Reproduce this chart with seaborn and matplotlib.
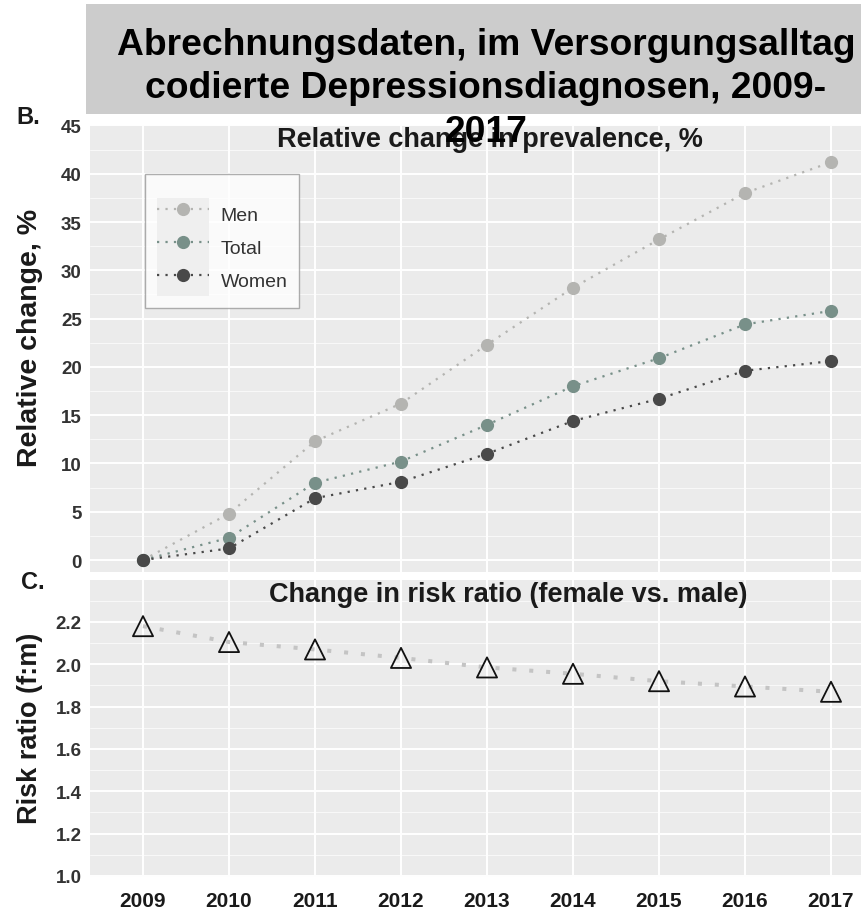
import matplotlib
matplotlib.use("Agg")
import matplotlib.pyplot as plt
import matplotlib.patches as mpatches
from matplotlib.legend_handler import HandlerTuple
from matplotlib.ticker import MultipleLocator
import numpy as np
import pandas as pd
import seaborn as sns

# ---------------- data ----------------
years = [2009, 2010, 2011, 2012, 2013, 2014, 2015, 2016, 2017]
men = [0.0, 4.8, 12.3, 16.2, 22.3, 28.2, 33.2, 38.0, 41.2]
total = [0.0, 2.3, 8.0, 10.2, 14.0, 18.0, 20.9, 24.4, 25.8]
women = [0.0, 1.2, 6.4, 8.1, 11.0, 14.4, 16.7, 19.6, 20.6]
risk_ratio = [2.18, 2.105, 2.07, 2.03, 1.985, 1.955, 1.92, 1.895, 1.87]
groups = ["Men", "Total", "Women"]
colors = {"Men": "#b4b4b1", "Total": "#789089", "Women": "#494949"}

title_text = "Abrechnungsdaten, im Versorgungsalltag\ncodierte Depressionsdiagnosen, 2009-\n2017"
panel_b_title = "Relative change in prevalence, %"
panel_c_title = "Change in risk ratio (female vs. male)"
ylab_b = "Relative change, %"
ylab_c = "Risk ratio (f:m)"

df = pd.DataFrame({
    "year": years * 3,
    "value": men + total + women,
    "group": ["Men"] * len(years) + ["Total"] * len(years) + ["Women"] * len(years),
})
df_rr = pd.DataFrame({"year": years, "rr": risk_ratio})

# ---------------- style ----------------
sns.set_theme(style="darkgrid")
plt.rcParams["font.family"] = ["Liberation Sans", "DejaVu Sans"]
plt.rcParams["axes.facecolor"] = "#ebebeb"

W, H = 861, 912
fig = plt.figure(figsize=(W / 100, H / 100), dpi=100)
fig.patch.set_facecolor("white")

def fx(px):
    return px / W

def fy(py):
    return 1 - py / H

left_px, right_px = 90, 861
axB = fig.add_axes([fx(left_px), fy(573), fx(right_px - left_px), (573 - 126) / H])
axC = fig.add_axes([fx(left_px), fy(878), fx(right_px - left_px), (878 - 581) / H])

x_lo, x_hi = 2009 - 53 / 86, 2017 + 30 / 86

def style_axes(ax):
    ax.set_facecolor("#ebebeb")
    ax.grid(which="major", color="white", linewidth=1.4)
    ax.grid(which="minor", color="white", linewidth=0.6, alpha=0.8)
    ax.grid(which="minor", axis="x", visible=False)
    for s in ax.spines.values():
        s.set_visible(False)
    ax.tick_params(axis="both", which="major", length=4, width=1, color="#333333",
                   direction="out", labelsize=13.5, labelcolor="#333333", pad=2)
    ax.tick_params(axis="both", which="minor", length=0)
    for lab in ax.get_yticklabels() + ax.get_xticklabels():
        lab.set_fontweight("bold")

# ---------------- panel B ----------------
sns.lineplot(data=df, x="year", y="value", hue="group", hue_order=groups,
             palette=colors, ax=axB, marker="o", markersize=9.5,
             markeredgewidth=0, linewidth=1.6, linestyle=(0, (1, 2.8)),
             legend=True)
axB.set_xlim(x_lo, x_hi)
axB.set_ylim(-1.24, 45.05)
axB.set_xticks(years)
axB.set_yticks(np.arange(0, 46, 5))
axB.yaxis.set_minor_locator(MultipleLocator(2.5))
axB.set_xlabel("")
axB.set_ylabel("")
axB.set_xticklabels([])
style_axes(axB)
axB.tick_params(axis="x", length=0)
axB.text((490 - left_px) / (right_px - left_px), (573 - 140) / (573 - 126),
         panel_b_title, transform=axB.transAxes, ha="center", va="center",
         fontsize=19.5, fontweight="bold", color="#1a1a1a")

handles, labels = axB.get_legend_handles_labels()
new_handles = [(mpatches.Rectangle((0, 0), 1, 1, facecolor="#efefef", edgecolor="none"), h)
               for h in handles]
leg = axB.legend(new_handles, labels,
                 handler_map={tuple: HandlerTuple(ndivide=1, pad=0)},
                 loc="upper left",
                 bbox_to_anchor=((145 - left_px) / (right_px - left_px),
                                 (573 - 175) / (573 - 126)),
                 borderaxespad=0, frameon=True, fontsize=14, title=" ",
                 title_fontsize=9, handlelength=2.7, handleheight=2.22,
                 labelspacing=0, borderpad=0.6, handletextpad=0.6,
                 fancybox=False)
leg.get_frame().set_edgecolor("#9a9a9a")
leg.get_frame().set_facecolor("white")
leg.get_frame().set_linewidth(1.0)
for t in leg.get_texts():
    t.set_color("#333333")

# ---------------- panel C ----------------
sns.lineplot(data=df_rr, x="year", y="rr", ax=axC, color="#c4c4c4",
             linewidth=2.9, linestyle=(0, (1, 3.2)), dash_capstyle="butt")
sns.scatterplot(data=df_rr, x="year", y="rr", ax=axC, marker="^", s=210,
                facecolor="none", edgecolor="#111111", linewidth=1.3, zorder=5)
axC.set_xlim(x_lo, x_hi)
axC.set_ylim(0.995, 2.398)
axC.set_xticks(years)
axC.set_xticklabels([str(y) for y in years])
axC.set_yticks([1.0, 1.2, 1.4, 1.6, 1.8, 2.0, 2.2])
axC.set_yticklabels(["1.0", "1.2", "1.4", "1.6", "1.8", "2.0", "2.2"])
axC.yaxis.set_minor_locator(MultipleLocator(0.1))
axC.set_xlabel("")
axC.set_ylabel("")
style_axes(axC)
axC.tick_params(axis="x", labelsize=15, pad=6)
for lab in axC.get_xticklabels():
    lab.set_fontweight("bold")
    lab.set_color("#1a1a1a")
axC.text((508 - left_px) / (right_px - left_px), (878 - 595) / (878 - 581),
         panel_c_title, transform=axC.transAxes, ha="center", va="center",
         fontsize=19.5, fontweight="bold", color="#1a1a1a")

# ---------------- figure texts ----------------
fig.text(fx(30), fy(338), ylab_b, rotation=90, ha="center", va="center",
         fontsize=20.5, fontweight="bold", color="#1a1a1a")
fig.text(fx(30), fy(728), ylab_c, rotation=90, ha="center", va="center",
         fontsize=19.5, fontweight="bold", color="#1a1a1a")
fig.text(fx(28), fy(117), "B.", ha="center", va="center", fontsize=17,
         fontweight="bold", color="#1a1a1a")
fig.text(fx(33), fy(583), "C.", ha="center", va="center", fontsize=17,
         fontweight="bold", color="#1a1a1a")

rect = mpatches.Rectangle((fx(86), fy(115)), 1 - fx(86), (115 - 5) / H,
                          transform=fig.transFigure, facecolor="#cccccc",
                          edgecolor="none", zorder=1)
fig.patches.append(rect)
fig.text(fx(486), fy(89), title_text, ha="center", va="center",
         multialignment="center", fontsize=26.8, fontweight="bold",
         color="black", linespacing=1.3, zorder=10)

fig.savefig("out.png", dpi=100)
